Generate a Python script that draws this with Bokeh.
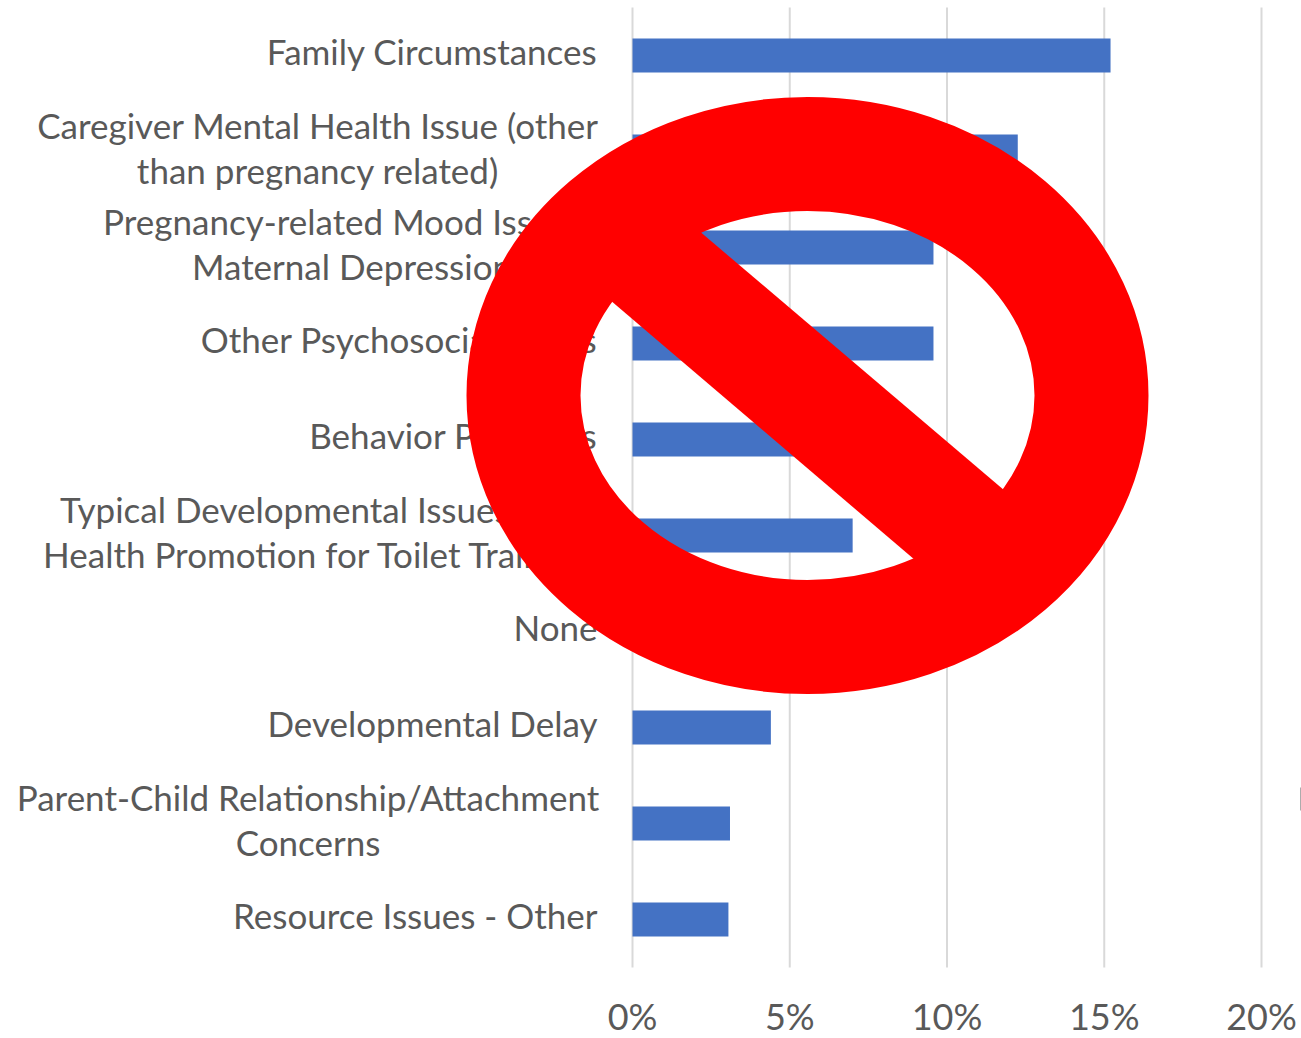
from bokeh.plotting import figure
from bokeh.models import Range1d, FixedTicker
from bokeh.core.properties import value
from bokeh.embed import file_html
from bokeh.resources import INLINE

categories = [
    "Family Circumstances",
    "Caregiver Mental Health Issue (other\nthan pregnancy related)",
    "Pregnancy-related Mood Issues/\nMaternal Depression",
    "Other Psychosocial Issues",
    "Behavior Problems",
    "Typical Developmental Issues and\nHealth Promotion for Toilet Training",
    "None",
    "Developmental Delay",
    "Parent-Child Relationship/Attachment\nConcerns",
    "Resource Issues - Other",
]
values = [15.2, 12.25, 9.57, 9.57, 8.0, 7.0, 6.0, 4.4, 3.1, 3.05]
x_ticks = [0, 5, 10, 15, 20]
x_tick_labels = ["0%", "5%", "10%", "15%", "20%"]

PX_PER_PCT = 31.45
X0_PX = 632
BAND_PX = 96
Y0_PX = 7
FIG_W, FIG_H = 1301, 1038
GRID_BOTTOM = 967
LABEL_RIGHT = 597
LINE_GAP = 45
TEXT_LIFT = 4
# horizontal middle of the two-line labels, which are centred on each other
BLOCK_MIDDLE = {1: 317.5, 2: 351.5, 5: 317, 8: 307.5}


def dx(px):
    return (px - X0_PX) / PX_PER_PCT


def dy(py):
    return (py - Y0_PX) / BAND_PX


p = figure(
    width=FIG_W, height=FIG_H, output_backend="svg", toolbar_location=None,
    x_range=Range1d(dx(0), dx(FIG_W)),
    y_range=Range1d(dy(FIG_H), dy(0)),
    min_border_left=0, min_border_right=0, min_border_top=0, min_border_bottom=0,
    outline_line_color=None,
)

# gridlines stop at the bottom of the plot area, above the tick labels
p.xgrid.visible = False
p.ygrid.visible = False
p.segment(x0=x_ticks, x1=x_ticks, y0=[dy(Y0_PX)] * len(x_ticks),
          y1=[dy(GRID_BOTTOM)] * len(x_ticks),
          line_color="#D9D9D9", line_width=2, level="underlay")

centers = [i + 0.5 for i in range(len(categories))]
p.hbar(y=centers, left=0, right=values, height=34 / BAND_PX,
       fill_color="#4472C4", line_color=None)

# x axis, pinned at the bottom of the plot area
xa = p.xaxis[0]
xa.fixed_location = dy(GRID_BOTTOM)
xa.ticker = FixedTicker(ticks=x_ticks)
xa.major_label_overrides = dict(zip(x_ticks, x_tick_labels))
xa.major_label_text_font = "Lato"
xa.major_label_text_font_size = "36px"
xa.major_label_text_color = "#595959"
xa.major_label_standoff = 20
xa.axis_line_color = None
xa.major_tick_line_color = None
xa.minor_tick_line_color = None
p.yaxis.visible = False

# category labels, one text per line so that the line gap can be matched
for i, label in enumerate(categories):
    lines = label.split("\n")
    if len(lines) == 1:
        xs, align = [dx(LABEL_RIGHT)], "right"
        ys = [centers[i] - (TEXT_LIFT + 1) / BAND_PX]
    else:
        xs, align = [dx(BLOCK_MIDDLE[i])] * 2, "center"
        ys = [centers[i] - (LINE_GAP / 2 + TEXT_LIFT) / BAND_PX,
              centers[i] + (LINE_GAP / 2 - TEXT_LIFT) / BAND_PX]
    p.text(x=xs, y=ys, text=lines, text_align=align, text_baseline="middle",
           text_font=value("Lato"), text_font_size="35px", text_color="#595959")

# prohibition sign on top of the chart
p.ellipse(x=[dx(807)], y=[dy(395)], width=[568], height=[483],
          width_units="screen", height_units="screen",
          fill_alpha=0, line_color="#FF0000", line_width=114, level="overlay")
p.patch(x=[dx(589), dx(677), dx(1025), dx(935)],
        y=[dy(282), dy(212), dy(508), dy(577)],
        fill_color="#FF0000", line_color=None, level="overlay")

# clipped sliver of text at the right edge
p.segment(x0=[dx(1300.5)], y0=[dy(787)], x1=[dx(1300.5)], y1=[dy(810)],
          line_color="#595959", line_width=1)

open("out.html", "w").write(file_html(p, INLINE))
